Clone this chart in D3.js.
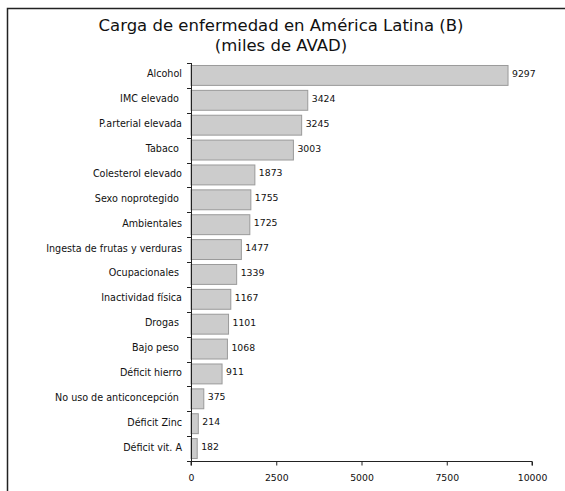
<!DOCTYPE html>
<html><head><meta charset="utf-8">
<script src="https://cdn.jsdelivr.net/npm/d3@7"></script>
<style>body{margin:0;background:#fff;}svg{display:block;font-family:"DejaVu Sans",sans-serif;}</style>
</head><body>
<svg id="c" width="565" height="491"></svg>
<script>
const categories = ["Alcohol","IMC elevado ","P.arterial elevada","Tabaco ","Colesterol elevado","Sexo noprotegido ","Ambientales","Ingesta de frutas y verduras","Ocupacionales ","Inactividad física","Drogas ","Bajo peso ","Déficit hierro","No uso de anticoncepción ","Déficit Zinc","Déficit vit. A"];
const values = [9297,3424,3245,3003,1873,1755,1725,1477,1339,1167,1101,1068,911,375,214,182];
const xTicks = [0,2500,5000,7500,10000];
const titleLines = ["Carga de enfermedad en América Latina (B)","(miles de AVAD)"];

const svg = d3.select("#c");
svg.append("path").attr("d","M7.5,491 V8.5 H565").attr("fill","none").attr("stroke","#222").attr("stroke-width",1.5);

const x = d3.scaleLinear().domain([0,10000]).range([191,532]);
const y = d3.scaleBand().domain(categories).range([63,461]).paddingInner(0.2).paddingOuter(0.1);

svg.selectAll("text.title").data(titleLines).join("text").attr("class","title")
  .attr("x",281).attr("y",(d,i)=>31+i*20).attr("text-anchor","middle")
  .attr("font-size",16.5).attr("fill","#111").text(d=>d);

svg.selectAll("rect.bar").data(values).join("rect").attr("class","bar")
  .attr("x",x(0)).attr("y",(d,i)=>y(categories[i]))
  .attr("width",d=>x(d)-x(0)).attr("height",y.bandwidth())
  .attr("fill","#cccccc").attr("stroke","#9a9a9a").attr("stroke-width",1);

svg.selectAll("text.val").data(values).join("text").attr("class","val")
  .attr("x",d=>x(d)+4).attr("y",(d,i)=>y(categories[i])+y.bandwidth()/2-1)
  .attr("dominant-baseline","middle").attr("font-size",9.3).attr("fill","#111").text(d=>d);

// y axis
const yAxisG = svg.append("g");
yAxisG.append("line").attr("x1",191.5).attr("x2",191.5).attr("y1",63).attr("y2",461).attr("stroke","#222");
const bounds = d3.range(categories.length+1).map(i=>63+i*(398/categories.length));
yAxisG.selectAll("line.t").data(bounds).join("line").attr("class","t")
  .attr("x1",187).attr("x2",191.5).attr("y1",d=>Math.round(d)+0.5).attr("y2",d=>Math.round(d)+0.5).attr("stroke","#222");
svg.selectAll("text.cat").data(categories).join("text").attr("class","cat")
  .attr("x",182).attr("y",d=>y(d)+y.bandwidth()/2-1).attr("text-anchor","end")
  .style("white-space","pre")
  .attr("dominant-baseline","middle").attr("font-size",9.6).attr("fill","#111").text(d=>d);

// x axis
const xAxis = d3.axisBottom(x).tickValues(xTicks).tickSize(4).tickFormat(d3.format("d"));
const gx = svg.append("g").attr("transform","translate(0,461.5)").call(xAxis);
gx.select(".domain").attr("stroke","#222").attr("d","M"+x(0)+",4V0H"+x(10000)+"V4");
gx.selectAll(".tick line").attr("stroke","#222");
gx.selectAll(".tick text").attr("font-size",9.3).attr("font-family","DejaVu Sans").attr("fill","#111").attr("dy","1.3em");
</script>
</body></html>
